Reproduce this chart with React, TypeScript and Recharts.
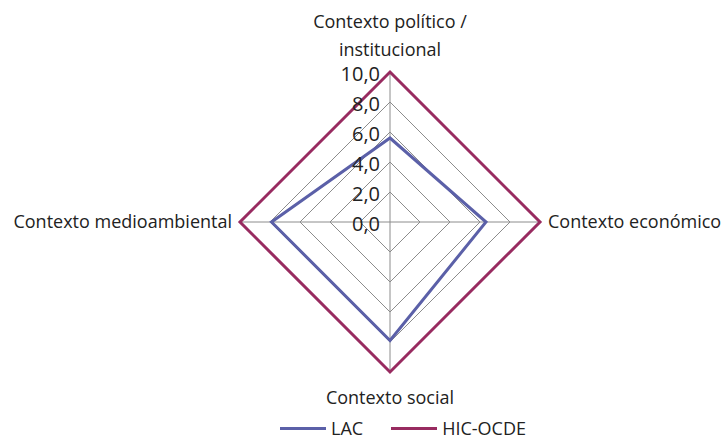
import React from 'react';
import { RadarChart, Radar, PolarGrid, PolarAngleAxis, PolarRadiusAxis, Legend } from 'recharts';

const categorias = [
  'Contexto político / institucional',
  'Contexto económico',
  'Contexto social',
  'Contexto medioambiental',
];
const valoresLAC = [5.6, 6.4, 7.9, 7.9];
const valoresHIC = [10, 10, 10, 10];
const ticksRadio = [0, 2, 4, 6, 8, 10];

const COLOR_LAC = '#5b60a8';
const COLOR_HIC = '#982b60';
const FUENTE = '"Open Sans", "Noto Sans", sans-serif';

const datos = categorias.map((c, i) => ({ categoria: c, LAC: valoresLAC[i], HIC: valoresHIC[i] }));

// Etiquetas de los ejes angulares
const EtiquetaAngulo = (props: any) => {
  const { x, y, payload, cx } = props;
  const v: string = payload.value;
  const estilo = { fontFamily: FUENTE, fontSize: 18, fill: '#222' };
  if (v.startsWith('Contexto político')) {
    return (
      <text x={x} y={y - 36} textAnchor="middle" {...estilo}>
        <tspan x={x} dy={0}>Contexto político /</tspan>
        <tspan x={x} dy={28}>institucional</tspan>
      </text>
    );
  }
  if (v === 'Contexto social') {
    return (
      <text x={x} y={y + 24} textAnchor="middle" {...estilo}>
        {v}
      </text>
    );
  }
  const derecha = x > (cx ?? 390);
  return (
    <text x={x} y={y + 6} textAnchor={derecha ? 'start' : 'end'} {...estilo}>
      {v}
    </text>
  );
};

const EtiquetaRadio = (props: any) => {
  const { x, y, payload } = props;
  return (
    <text x={x - 10} y={y + 9} textAnchor="end" fontFamily={FUENTE} fontSize={20} fill="#222">
      {Number(payload.value).toFixed(1).replace('.', ',')}
    </text>
  );
};

const LeyendaPersonal = () => (
  <div style={{ display: 'flex', paddingLeft: 280, fontFamily: FUENTE, fontSize: 18, color: '#222', lineHeight: '20px' }}>
    {[
      { nombre: 'LAC', color: COLOR_LAC },
      { nombre: 'HIC-OCDE', color: COLOR_HIC },
    ].map((s) => (
      <div key={s.nombre} style={{ display: 'flex', alignItems: 'center', marginRight: 28 }}>
        <span style={{ display: 'inline-block', width: 46, height: 3, background: s.color, marginRight: 5 }} />
        <span>{s.nombre}</span>
      </div>
    ))}
  </div>
);

const App: React.FC = () => {
  return (
    <div style={{ position: 'absolute', left: 0, top: 0, background: '#fff' }}>
      <RadarChart width={723} height={435} data={datos} cx={390} cy={222} outerRadius={150} startAngle={90} endAngle={-270}>
        <PolarGrid gridType="polygon" stroke="#8c8c8c" strokeWidth={1} />
        <PolarAngleAxis dataKey="categoria" tick={EtiquetaAngulo} tickLine={false} axisLine={false} />
        <PolarRadiusAxis
          angle={90}
          domain={[0, 10]}
          ticks={ticksRadio}
          tick={EtiquetaRadio}
          axisLine={false}
          tickLine={false}
        />
        <Radar name="LAC" dataKey="LAC" stroke={COLOR_LAC} strokeWidth={3} fill="none" fillOpacity={0} isAnimationActive={false} dot={false} />
        <Radar name="HIC-OCDE" dataKey="HIC" stroke={COLOR_HIC} strokeWidth={3} fill="none" fillOpacity={0} isAnimationActive={false} dot={false} />
        <Legend
          content={LeyendaPersonal}
          wrapperStyle={{ position: 'absolute', left: 0, width: 723, top: 418 }}
        />
      </RadarChart>
    </div>
  );
};

export default App;
